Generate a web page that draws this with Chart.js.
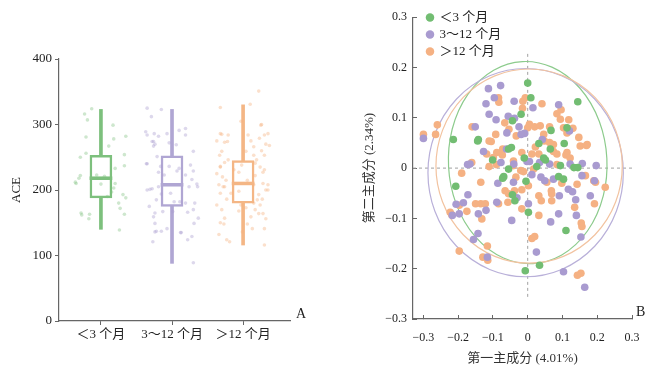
<!DOCTYPE html>
<html lang="zh">
<head>
<meta charset="UTF-8">
<title>ACE 与主成分分析</title>
<script src="https://cdn.jsdelivr.net/npm/chart.js"></script>
<style>
  html, body { margin: 0; padding: 0; background: #fff; }
  body { width: 663px; height: 373px; position: relative; overflow: hidden; }
  canvas { position: absolute; top: 0; }
  #aceBox { left: 0; }
  #pcaScatter { left: 330px; }
</style>
</head>
<body>
<canvas id="aceBox" width="320" height="373"></canvas>
<canvas id="pcaScatter" width="333" height="373"></canvas>
<script>
// ---- data ----
const GROUPS = ['＜3 个月', '3～12 个月', '＞12 个月'];
const GROUP_POS = [0, 1, 2];

// box plot (ACE)
const BOX_MIN = [140, 88, 116];
const BOX_Q1 = [188, 175, 180];
const BOX_MEDIAN = [218, 208, 210];
const BOX_Q3 = [253, 252, 245];
const BOX_MAX = [323, 323, 330];
const ACE_TICKS = [0, 100, 200, 300, 400];

// jittered samples: [offset from group centre, ACE]
const ACE_LT3 = [[-0.13,324],[-0.23,316],[-0.19,307],[0.17,299],[-0.21,281],[0.18,278],[0.35,282],[0.11,267],
  [-0.21,256],[-0.29,250],[0.33,254],[0.20,233],[0.33,237],[-0.29,222],[-0.31,218],[-0.35,210],[-0.06,223],
  [0.05,221],[0,209],[0.20,210],[0.18,203],[0.15,197],[0.09,190],[0.31,193],[0.35,188],[0.25,180],[0.27,172],
  [0.33,163],[-0.27,162],[-0.16,163],[-0.17,156],[0.26,139],[-0.28,165],[-0.36,212]];
const ACE_3TO12 = [[-0.35,325],[-0.15,323],[-0.29,312],[-0.37,289],[-0.25,286],[-0.19,282],[-0.28,274],[-0.24,270],
  [-0.26,267],[-0.07,286],[0.10,291],[0.19,294],[0.19,284],[-0.04,272],[0.06,269],[-0.21,251],[0.30,259],
  [-0.36,240],[-0.04,236],[0.07,229],[0.26,238],[-0.19,227],[-0.11,223],[0.19,223],[0.30,229],[0.28,216],
  [0.35,209],[0.24,205],[-0.35,200],[-0.28,202],[-0.19,205],[-0.15,194],[-0.22,185],[-0.02,195],[0.03,182],
  [0.11,182],[-0.32,175],[-0.24,165],[-0.13,167],[0.01,167],[0.22,166],[0.32,180],[0.30,170],[0.37,157],
  [-0.24,149],[0.31,149],[-0.22,137],[-0.15,137],[-0.07,141],[0.13,135],[-0.27,121],[0.22,124],[0.28,129],
  [0.30,89],[-0.35,284],[-0.26,274],[-0.35,240],[-0.16,236],[-0.31,201],[0.10,233],[0.36,205],[0.19,180],
  [0.12,135],[-0.24,136],[-0.26,159]];
const ACE_GT12 = [[0.22,351],[-0.32,326],[0.10,331],[-0.03,305],[0.25,299],[-0.32,286],[-0.21,284],[0.07,284],
  [0.30,284],[0.35,286],[-0.37,275],[-0.26,273],[0.11,275],[0.23,279],[0.32,270],[0.15,266],[-0.30,259],
  [0.04,259],[0.26,260],[0.37,268],[-0.33,253],[0.15,253],[0.30,253],[-0.26,242],[-0.21,246],[0.19,246],
  [-0.02,238],[-0.32,235],[-0.06,227],[-0.37,225],[0.24,235],[0.28,227],[0.17,222],[-0.29,220],[-0.24,215],
  [0.06,215],[0.28,210],[0.35,208],[-0.34,208],[-0.26,205],[0.15,208],[-0.32,195],[-0.06,198],[0.32,200],
  [0.22,193],[-0.23,186],[0.27,186],[-0.37,177],[-0.03,177],[0.15,180],[0.24,177],[0.04,173],[-0.06,168],
  [0.17,170],[0.11,159],[0.22,164],[-0.26,157],[0.32,156],[-0.32,150],[-0.27,148],[0.06,148],[0.13,141],
  [0.30,141],[-0.01,136],[-0.34,132],[-0.23,124],[-0.19,121],[0.30,116],[-0.30,285],[-0.22,274],[-0.32,236],
  [-0.13,231],[-0.28,205],[-0.17,195],[0.30,231],[0.17,241],[0.35,200],[0.20,185],[0.28,164],[-0.30,170],
  [0.26,300]];

// principal components: [PC1, PC2]
const PCA_LT3 = [[0,0.169],[0.009,0.140],[0.144,0.132],[-0.019,0.107],[-0.044,0.094],[0.067,0.075],[0.113,0.080],
  [-0.214,0.057],[-0.142,0.057],[-0.144,0.054],[0.032,0.049],[0.105,0.049],[0.065,0.038],[-0.055,0.038],
  [-0.047,0.041],[-0.010,0.020],[-0.101,0.016],[0.046,0.020],[0.051,0.016],[0.026,0.003],[0.094,0.005],
  [0.133,0.001],[0.144,0.001],[-0.055,-0.002],[-0.069,-0.017],[-0.072,-0.020],[0.089,-0.017],[0.103,-0.022],
  [-0.005,-0.026],[-0.207,-0.036],[-0.044,-0.053],[-0.037,-0.065],[0.002,-0.088],[0.110,-0.124],[0.034,-0.193],
  [-0.007,-0.204]];
const PCA_3TO12 = [[-0.300,0.059],[-0.113,0.158],[-0.078,0.164],[-0.096,0.140],[-0.120,0.128],[-0.039,0.133],
  [0.015,0.120],[0.089,0.126],[-0.111,0.107],[-0.091,0.096],[-0.056,0.103],[-0.038,0.099],[-0.151,0.082],
  [-0.025,0.082],[-0.009,0.069],[0.120,0.074],[0.042,0.057],[-0.127,0.033],[-0.061,0.038],[-0.173,0.007],
  [-0.166,0.008],[-0.077,0.011],[-0.040,0.008],[-0.002,0.013],[0.005,0.013],[0.034,0.011],[0.063,0.008],
  [0.122,0.008],[0.157,0.009],[0.197,0.005],[0.012,-0.013],[0.038,-0.018],[0.049,-0.025],[0.074,-0.022],
  [0.156,-0.015],[0.192,-0.025],[-0.086,-0.030],[-0.041,-0.028],[0.117,-0.042],[0.129,-0.047],[0.091,-0.055],
  [0.138,-0.063],[0.180,-0.055],[-0.172,-0.053],[-0.206,-0.072],[-0.185,-0.069],[-0.217,-0.094],[-0.197,-0.091],
  [-0.142,-0.091],[-0.120,-0.084],[-0.089,-0.068],[-0.031,-0.059],[0.002,-0.071],[-0.046,-0.104],[0.089,-0.091],
  [0.140,-0.094],[0.066,-0.107],[-0.143,-0.130],[-0.156,-0.142],[0.153,-0.137],[0.025,-0.167],[-0.116,-0.177],
  [0.103,-0.206],[0.164,-0.237],[-0.019,0.067],[-0.060,0.070]];
const PCA_GT12 = [[-0.300,0.067],[-0.260,0.086],[-0.265,0.067],[-0.160,0.082],[-0.190,-0.010],[-0.161,0.011],
  [-0.223,-0.088],[-0.218,-0.093],[-0.197,-0.074],[-0.197,-0.165],[-0.135,-0.071],[-0.122,-0.071],[-0.132,-0.101],
  [-0.135,-0.028],[-0.129,-0.177],[-0.115,-0.183],[-0.116,-0.155],[-0.118,0.028],[-0.099,0.021],[-0.111,0.003],
  [-0.105,0.053],[-0.084,0.140],[-0.083,0.131],[-0.111,0.054],[-0.092,0.067],[-0.066,0.090],[-0.072,0.038],
  [-0.089,0.031],[-0.090,0.007],[-0.041,0.014],[-0.054,0.077],[-0.033,0.064],[-0.014,0.133],[-0.007,0.140],
  [-0.015,0.119],[0.000,0.080],[0.005,0.087],[-0.017,0.031],[-0.020,-0.005],[-0.012,-0.007],[-0.034,-0.018],
  [-0.038,-0.045],[-0.017,-0.043],[0.002,-0.035],[-0.065,-0.045],[-0.084,-0.071],[-0.057,-0.068],[-0.017,-0.081],
  [-0.055,-0.051],[0.032,-0.055],[0.039,-0.065],[0.032,-0.094],[0.012,-0.140],[0.020,-0.136],[0.041,0.128],
  [0.020,0.082],[0.036,0.084],[0.063,0.082],[0.084,0.108],[0.096,0.116],[0.094,0.097],[0.118,0.096],
  [0.103,0.080],[0.130,0.079],[0.113,0.070],[0.147,0.061],[0.151,0.044],[0.169,0.045],[0.171,0.047],
  [0.046,0.067],[0.048,0.054],[0.063,0.051],[0.074,0.047],[0.074,0.033],[0.022,0.042],[0.032,0.028],
  [0.084,0.028],[0.113,0.031],[0.110,0.026],[0.122,0.020],[0.084,0.007],[0.017,-0.002],[0.055,-0.028],
  [0.068,-0.045],[0.069,-0.051],[0.069,-0.065],[0.098,-0.030],[0.142,-0.032],[0.135,-0.078],[0.166,-0.015],
  [0.190,-0.025],[0.195,-0.028],[0.223,-0.038],[0.192,-0.071],[0.154,-0.109],[0.156,-0.116],[0.143,-0.213],
  [0.153,-0.209],[-0.175,-0.086],[-0.150,-0.071],[0.012,0.028],[-0.073,0.026],[-0.041,0.005]];
const PCA_TICKS = [-0.3, -0.2, -0.1, 0, 0.1, 0.2, 0.3];

// confidence ellipses (data units), tilt in degrees
const ELLIPSE_CX = [0.000, -0.006, 0.004];
const ELLIPSE_CY = [0.011, -0.009, 0.004];
const ELLIPSE_RX = [0.228, 0.281, 0.268];
const ELLIPSE_RY = [0.201, 0.207, 0.193];
const ELLIPSE_TILT = [-3, 0, 0];
const ZERO_V_SPAN = [-0.256, 0.232];
const ZERO_H_SPAN = [-0.33, 0.3];

// ---- style ----
const LINE_COLORS = ['#7dc07d', '#b0a6d3', '#f4b685'];
const DOT_COLORS = ['#72bd72', '#a99bd0', '#f5b183'];
const JITTER_COLORS = ['rgba(125,192,125,0.38)', 'rgba(170,158,208,0.40)', 'rgba(244,178,128,0.40)'];
const RING_COLORS = ['#8ccb8c', '#b9b0d9', '#f2c3a0'];
const SERIF = '"Liberation Serif", "Noto Sans CJK SC", serif';
const AXIS_GREY = '#666';

const panelLetter = {
  id: 'panelLetter',
  afterDraw(chart, args, opts) {
    const {ctx, chartArea} = chart;
    ctx.save();
    ctx.font = '14px ' + SERIF;
    ctx.fillStyle = '#222';
    ctx.textBaseline = 'middle';
    ctx.fillText(opts.text, chartArea.right + opts.dx, chartArea.bottom - 7);
    ctx.restore();
  }
};

// nudge the in-plot legend off the axes
const legendNudge = {
  id: 'legendNudge',
  afterLayout(chart, args, opts) {
    if (!chart.legend) return;
    chart.legend.left += opts.dx;
    chart.legend.top += opts.dy;
  }
};

// ---- A: ACE box plot ----
const jitterSets = [ACE_LT3, ACE_3TO12, ACE_GT12].map((pts, g) => ({
  type: 'scatter',
  data: pts.map(p => ({x: GROUP_POS[g] + p[0], y: p[1]})),
  pointRadius: 1.8,
  pointBorderWidth: 0,
  pointBackgroundColor: JITTER_COLORS[g],
  order: 0
}));

new Chart(document.getElementById('aceBox'), {
  type: 'bar',
  data: {
    datasets: [
      {
        data: GROUP_POS.map((x, i) => ({x, y: [BOX_MIN[i], BOX_MAX[i]]})),
        backgroundColor: LINE_COLORS,
        barThickness: 3,
        grouped: false,
        order: 3
      },
      {
        data: GROUP_POS.map((x, i) => ({x, y: [BOX_Q1[i], BOX_Q3[i]]})),
        backgroundColor: '#fff',
        borderColor: LINE_COLORS,
        borderWidth: 2.5,
        borderSkipped: false,
        barThickness: 22,
        grouped: false,
        order: 2
      },
      {
        data: GROUP_POS.map((x, i) => ({x, y: [BOX_MEDIAN[i] - 2.2, BOX_MEDIAN[i] + 2.2]})),
        backgroundColor: LINE_COLORS,
        barThickness: 22,
        grouped: false,
        order: 1
      },
      ...jitterSets
    ]
  },
  options: {
    responsive: false,
    animation: false,
    layout: { padding: { top: 59, right: 30, left: 0, bottom: 0 } },
    plugins: {
      legend: { display: false },
      tooltip: { enabled: false },
      panelLetter: { text: 'A', dx: 6 }
    },
    scales: {
      x: {
        type: 'linear',
        offset: false,
        min: -0.59, max: 2.66,
        afterBuildTicks: s => { s.ticks = GROUP_POS.map(v => ({value: v})); },
        grid: { drawOnChartArea: false, offset: false, tickLength: 4, color: AXIS_GREY },
        border: { color: AXIS_GREY, width: 1.2 },
        ticks: { color: '#222', padding: 2, font: { family: SERIF, size: 13 }, callback: v => GROUPS[v] },
        afterFit: s => { s.height = 52; }
      },
      y: {
        min: 0, max: 400,
        afterBuildTicks: s => { s.ticks = ACE_TICKS.map(v => ({value: v})); },
        grid: { drawOnChartArea: false, tickLength: 4, color: AXIS_GREY },
        border: { color: AXIS_GREY, width: 1.2 },
        ticks: { color: '#222', padding: 3, font: { family: SERIF, size: 13 } },
        title: { display: true, text: 'ACE', color: '#222', padding: { top: 9 }, font: { family: SERIF, size: 13 } },
        afterFit: s => { s.width = 59; }
      }
    }
  },
  plugins: [panelLetter]
});

// ---- B: PCA scatter ----
const pcaGuides = {
  id: 'pcaGuides',
  beforeDatasetsDraw(chart) {
    const {ctx} = chart;
    const xs = chart.scales.x, ys = chart.scales.y;
    ctx.save();
    ctx.lineWidth = 1;
    ctx.strokeStyle = '#a0a0a0';
    ctx.setLineDash([3, 3]);
    ctx.beginPath();
    ctx.moveTo(xs.getPixelForValue(0), ys.getPixelForValue(ZERO_V_SPAN[0]));
    ctx.lineTo(xs.getPixelForValue(0), ys.getPixelForValue(ZERO_V_SPAN[1]));
    ctx.moveTo(xs.getPixelForValue(ZERO_H_SPAN[0]), ys.getPixelForValue(0));
    ctx.lineTo(xs.getPixelForValue(ZERO_H_SPAN[1]), ys.getPixelForValue(0));
    ctx.stroke();
    ctx.setLineDash([]);
    ctx.lineWidth = 1.2;
    ELLIPSE_CX.forEach((cx, i) => {
      const cy = ELLIPSE_CY[i];
      const px = xs.getPixelForValue(cx), py = ys.getPixelForValue(cy);
      const rx = Math.abs(xs.getPixelForValue(cx + ELLIPSE_RX[i]) - px);
      const ry = Math.abs(ys.getPixelForValue(cy + ELLIPSE_RY[i]) - py);
      ctx.strokeStyle = RING_COLORS[i];
      ctx.beginPath();
      ctx.ellipse(px, py, rx, ry, ELLIPSE_TILT[i] * Math.PI / 180, 0, Math.PI * 2);
      ctx.stroke();
    });
    ctx.restore();
  }
};

const fmtPc = v => {
  const r = Math.round(v * 10) / 10;
  return r < 0 ? '−' + Math.abs(r) : String(r);
};

new Chart(document.getElementById('pcaScatter'), {
  type: 'scatter',
  data: {
    datasets: [PCA_LT3, PCA_3TO12, PCA_GT12].map((pts, g) => ({
      label: GROUPS[g],
      data: pts.map(p => ({x: p[0], y: p[1]})),
      pointRadius: 3.8,
      pointBorderWidth: 0,
      pointStyle: 'circle',
      backgroundColor: DOT_COLORS[g],
      borderColor: DOT_COLORS[g]
    }))
  },
  options: {
    responsive: false,
    animation: false,
    layout: { padding: { top: 16, right: 31, left: 0, bottom: 0 } },
    plugins: {
      legend: {
        position: 'chartArea',
        align: 'start',
        labels: {
          usePointStyle: true,
          boxWidth: 6,
          boxHeight: 6,
          padding: 4,
          color: '#222',
          font: { family: SERIF, size: 13 }
        }
      },
      tooltip: { enabled: false },
      panelLetter: { text: 'B', dx: 4 },
      legendNudge: { dx: 10, dy: 7 }
    },
    scales: {
      x: {
        min: -0.33, max: 0.3,
        afterBuildTicks: s => { s.ticks = PCA_TICKS.map(v => ({value: v})); },
        grid: { drawOnChartArea: false, tickLength: -4, color: AXIS_GREY },
        border: { color: AXIS_GREY, width: 1.2 },
        ticks: { color: '#222', padding: 16, font: { family: SERIF, size: 12 }, callback: fmtPc },
        title: { display: true, text: '第一主成分 (4.01%)', color: '#333', padding: { bottom: 7 }, font: { family: SERIF, size: 13 } },
        afterFit: s => { s.height = 54; }
      },
      y: {
        min: -0.3, max: 0.3,
        afterBuildTicks: s => { s.ticks = PCA_TICKS.map(v => ({value: v})); },
        grid: { drawOnChartArea: false, tickLength: -4, color: AXIS_GREY },
        border: { color: AXIS_GREY, width: 1.2 },
        ticks: { color: '#222', padding: 10, font: { family: SERIF, size: 12 }, callback: fmtPc },
        title: { display: true, text: '第二主成分 (2.34%)', color: '#333', padding: { top: 32 }, font: { family: SERIF, size: 13 } },
        afterFit: s => { s.width = 83; }
      }
    }
  },
  plugins: [pcaGuides, panelLetter, legendNudge]
});
</script>
</body>
</html>
